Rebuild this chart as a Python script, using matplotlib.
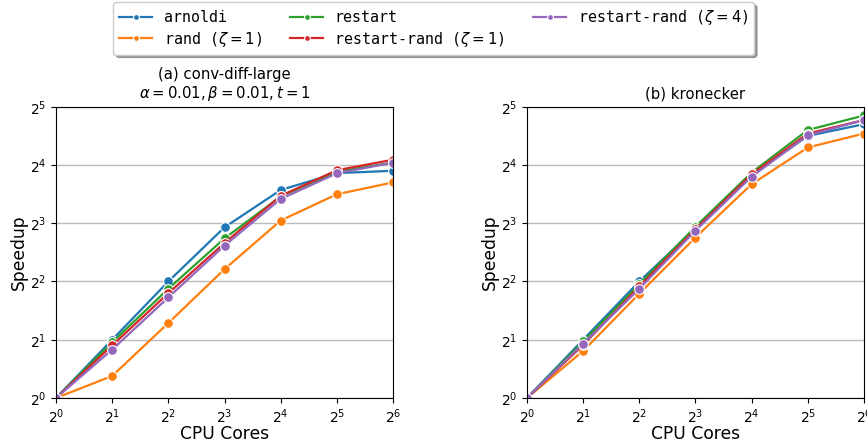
# speedup curves for the two test problems, log2 on both axes

import matplotlib as mpl
mpl.use('Agg')
import matplotlib.pyplot as plt
import numpy as np

cores = [1, 2, 4, 8, 16, 32, 64]

labels = ["arnoldi", r"rand ($\zeta=1$)", "restart",
          r"restart-rand ($\zeta=1$)", r"restart-rand ($\zeta=4$)"]
colors = ["#1f77b4", "#ff7f0e", "#2ca02c", "#d62728", "#9467bd"]

# (a) conv-diff-large
conv_arnoldi = [1, 2.0, 4.0, 7.62, 11.88, 14.52, 14.93]
conv_rand1 = [1, 1.30, 2.44, 4.63, 8.26, 11.29, 13.0]
conv_restart = [1, 1.94, 3.67, 6.68, 11.0, 14.78, 16.45]
conv_rr1 = [1, 1.87, 3.48, 6.32, 11.08, 15.03, 17.03]
conv_rr4 = [1, 1.78, 3.31, 6.13, 10.68, 14.49, 16.45]

# (b) kronecker
kron_arnoldi = [1, 2.0, 4.0, 7.52, 14.22, 22.6, 26.0]
kron_rand1 = [1, 1.75, 3.46, 6.75, 12.73, 19.7, 23.26]
kron_restart = [1, 1.96, 3.87, 7.67, 14.62, 24.25, 28.84]
kron_rr1 = [1, 1.88, 3.77, 7.45, 14.32, 23.26, 27.3]
kron_rr4 = [1, 1.91, 3.67, 7.33, 13.93, 22.8, 27.3]

conv = [conv_arnoldi, conv_rand1, conv_restart, conv_rr1, conv_rr4]
kron = [kron_arnoldi, kron_rand1, kron_restart, kron_rr1, kron_rr4]


def draw(ax, series, title):
    for vals, lab, c in zip(series, labels, colors):
        ax.plot(cores, vals, '-o', color=c, label=lab, lw=1.6, ms=7,
                markeredgecolor='white', markeredgewidth=0.8)
    ax.set_xscale('log', base=2)
    ax.set_yscale('log', base=2)
    ax.set_xlim(1, 64)
    ax.set_ylim(1, 32)
    ax.yaxis.grid(True, color='#bbbbbb', lw=1)
    ax.set_axisbelow(True)
    ax.minorticks_off()
    ax.tick_params(labelsize=10)
    ax.set_xlabel("CPU Cores", fontsize=12.3, labelpad=-1)
    ax.set_ylabel("Speedup", fontsize=12.3, labelpad=1.5)
    ax.set_title(title, fontsize=10.7)


fig = plt.figure(figsize=(8.67, 4.45), dpi=100)
ax1 = fig.add_axes([0.0646, 0.1056, 0.3887, 0.6546])
ax2 = fig.add_axes([0.6078, 0.1056, 0.3887, 0.6546])

draw(ax1, conv, "(a) conv-diff-large\n" + r"$\alpha=0.01, \beta=0.01, t=1$")
draw(ax2, kron, "(b) kronecker")

handles, labs = ax1.get_legend_handles_labels()
fig.legend(handles, labs, loc='upper left', bbox_to_anchor=(0.122, 1.012),
           ncol=3, shadow=True, prop={'family': 'DejaVu Sans Mono', 'size': 10.8},
           columnspacing=1.9, handlelength=2.2, handletextpad=0.75,
           labelspacing=0.3, markerscale=0.6)

fig.savefig("out.png", dpi=100)
